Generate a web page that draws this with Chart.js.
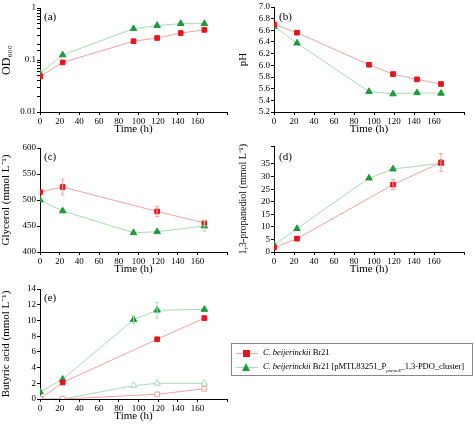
<!DOCTYPE html>
<html>
<head>
<meta charset="utf-8">
<script src="https://cdn.jsdelivr.net/npm/chart.js@4"></script>
<style>
  body { margin: 0; background: #fff; font-family: "Liberation Serif", serif; }
  .panel { position: absolute; }
  .tag { position: absolute; font-size: 11px; }
  #legend { position: absolute; left: 231px; top: 343px; width: 242px; height: 33px; border: 1px solid #888; font-size: 8.6px; box-sizing: border-box; }
  .row { position: absolute; left: 4px; white-space: nowrap; letter-spacing: -0.1px; }
  .ln { display: inline-block; width: 22px; height: 1px; vertical-align: middle; position: relative; margin-right: 5px; }
  .sq { position: absolute; left: 7px; top: -3px; width: 7px; height: 7px; background: #e8141c; }
  .tri { position: absolute; left: 6px; top: -4px; width: 0; height: 0; border-left: 4px solid transparent; border-right: 4px solid transparent; border-bottom: 8px solid #1e9a3c; }
</style>
</head>
<body>
<div class="panel" style="left:0;top:0"><canvas id="chartA" width="237" height="140"></canvas></div>
<div class="panel" style="left:237px;top:0"><canvas id="chartB" width="237" height="140"></canvas></div>
<div class="panel" style="left:0;top:140px"><canvas id="chartC" width="237" height="140"></canvas></div>
<div class="panel" style="left:237px;top:140px"><canvas id="chartD" width="237" height="140"></canvas></div>
<div class="panel" style="left:0;top:280px"><canvas id="chartE" width="237" height="147"></canvas></div>
<div class="tag" style="left:44px;top:10px">(a)</div>
<div class="tag" style="left:279px;top:10px">(b)</div>
<div class="tag" style="left:44px;top:150px">(c)</div>
<div class="tag" style="left:279px;top:150px">(d)</div>
<div class="tag" style="left:44px;top:291px">(e)</div>
<div id="legend">
  <div class="row" style="top:3px"><span class="ln" style="background:#f4a0a0"><span class="sq"></span></span><i>C. beijerinckii</i> Br21</div>
  <div class="row" style="top:17px"><span class="ln" style="background:#a6dcb4"><span class="tri"></span></span><i>C. beijerinckii</i> Br21 [pMTL83251_P<sub style="font-size:5px"><i>pta-ack</i></sub>_1,3-PDO_cluster]</div>
</div>
<script>
// 時間軸
const timeAll = [0, 23, 95, 119, 143, 167];
const timeC = [0, 23, 119, 167];
const timeG = [0, 23, 95, 119, 167];

// (a) OD600
const odRed = [0.048, 0.09, 0.23, 0.265, 0.33, 0.38];
const odGreen = [0.055, 0.125, 0.4, 0.46, 0.5, 0.5];
// (b) pH
const phRed = [6.70, 6.56, 6.01, 5.85, 5.76, 5.68];
const phGreen = [6.67, 6.38, 5.55, 5.51, 5.53, 5.52];
// (c) グリセロール
const glyRed = [515, 525, 478, 456];
const glyRedErr = [0, 15, 10, 5];
const glyGreen = [500, 479, 437, 439, 450];
const glyGreenErr = [0, 0, 0, 0, 10];
// (d) 1,3-プロパンジオール
const pdoRed = [1.8, 5.3, 26.8, 35.6];
const pdoRedErr = [0, 0, 2, 3.5];
const pdoGreen = [2.8, 9.3, 29.4, 33.0, 35.3];
const pdoGreenErr = [0, 0, 0, 0, 0];
// (e) 酪酸（塗り：本体、白抜き：もう一方）
const butRed = [0, 2.1, 7.6, 10.3];
const butRedErr = [0, 0, 0, 0];
const butGreen = [0.9, 2.5, 10.1, 11.3, 11.4];
const butGreenErr = [0, 0, 0.5, 1.0, 0];
const butRedOpen = [0, 0, 0.6, 1.3];
const butGreenOpen = [0, 0, 1.7, 2.0, 2.0];

const RED = '#e8141c', RED_L = '#f4a0a0', GREEN = '#1e9a3c', GREEN_L = '#a6dcb4';
const FONT = 'Liberation Serif';

function pts(xs, ys) { return xs.map((x, i) => ({ x: x, y: ys[i] })); }

function series(xs, ys, kind, err, open) {
  const red = kind === 'red';
  return {
    data: pts(xs, ys),
    err: err || null,
    borderColor: red ? RED_L : GREEN_L,
    borderWidth: 1,
    pointStyle: red ? 'rect' : 'triangle',
    pointRadius: red ? 3.3 : 3.8,
    pointBackgroundColor: open ? '#fff' : (red ? RED : GREEN),
    pointBorderColor: open ? (red ? RED_L : GREEN_L) : (red ? RED : GREEN),
    pointBorderWidth: 1,
    tension: 0
  };
}

// エラーバー描画
const errorBars = {
  id: 'errorBars',
  afterDatasetsDraw(chart) {
    const ctx = chart.ctx;
    const ys = chart.scales.y, xs = chart.scales.x;
    chart.data.datasets.forEach(ds => {
      if (!ds.err) return;
      ctx.save();
      ctx.strokeStyle = ds.borderColor;
      ctx.lineWidth = 1;
      ds.data.forEach((p, i) => {
        const e = ds.err[i];
        if (!e) return;
        const x = xs.getPixelForValue(p.x);
        const y1 = ys.getPixelForValue(p.y - e), y2 = ys.getPixelForValue(p.y + e);
        ctx.beginPath();
        ctx.moveTo(x, y1); ctx.lineTo(x, y2);
        ctx.moveTo(x - 2, y1); ctx.lineTo(x + 2, y1);
        ctx.moveTo(x - 2, y2); ctx.lineTo(x + 2, y2);
        ctx.stroke();
      });
      ctx.restore();
    });
  }
};

function makeChart(id, datasets, yOpts, yTitle, yWidth, padTop, titleSize) {
  const yScale = Object.assign({
    border: { color: '#000' },
    grid: { drawOnChartArea: false, color: '#000', tickLength: 3 },
    ticks: { color: '#000', font: { family: FONT, size: 9 }, padding: 1, autoSkip: false },
    title: { display: true, text: yTitle, color: '#000', font: { family: FONT, size: titleSize || 11 }, padding: 0 },
    afterFit: s => { s.width = yWidth; }
  }, yOpts);
  yScale.ticks = Object.assign(yScale.ticks, yOpts.tickExtra || {});
  delete yScale.tickExtra;
  new Chart(document.getElementById(id), {
    type: 'line',
    data: { datasets: datasets },
    options: {
      responsive: false,
      animation: false,
      layout: { padding: { top: padTop, right: 10 } },
      plugins: { legend: { display: false }, tooltip: { enabled: false } },
      scales: {
        x: {
          type: 'linear', min: 0, max: 190,
          border: { color: '#000' },
          grid: { drawOnChartArea: false, color: '#000', tickLength: 3 },
          ticks: { stepSize: 20, color: '#000', font: { family: FONT, size: 9 }, padding: 1,
                   autoSkip: false, maxRotation: 0, minRotation: 0,
                   callback: v => v > 180 ? '' : v },
          title: { display: true, text: 'Time (h)', color: '#000', font: { family: FONT, size: 11 }, padding: { top: 2 } },
          afterFit: s => { s.height = 28; }
        },
        y: yScale
      }
    },
    plugins: [errorBars]
  });
}

makeChart('chartA', [series(timeAll, odRed, 'red'), series(timeAll, odGreen, 'green')],
  { type: 'logarithmic', min: 0.01, max: 1,
    tickExtra: { callback: v => (v === 1 || v === 0.1 || v === 0.01) ? String(v) : '' } },
  'OD₆₀₀', 40, 8, 12);

makeChart('chartB', [series(timeAll, phRed, 'red'), series(timeAll, phGreen, 'green')],
  { type: 'linear', min: 5.2, max: 7.0, tickExtra: { stepSize: 0.2, callback: v => v.toFixed(1) } },
  'pH', 37, 7);

makeChart('chartC', [series(timeC, glyRed, 'red', glyRedErr), series(timeG, glyGreen, 'green', glyGreenErr)],
  { type: 'linear', min: 400, max: 600, tickExtra: { stepSize: 50 } },
  'Glycerol (mmol L⁻¹)', 40, 8);

makeChart('chartD', [series(timeC, pdoRed, 'red', pdoRedErr), series(timeG, pdoGreen, 'green', pdoGreenErr)],
  { type: 'linear', min: 0, max: 42, tickExtra: { stepSize: 5, callback: v => v > 40 ? '' : v } },
  '1,3-propanediol (mmol L⁻¹)', 37, 5, 10);

makeChart('chartE', [
    series(timeC, butRedOpen, 'red', null, true),
    series(timeG, butGreenOpen, 'green', null, true),
    series(timeC, butRed, 'red', butRedErr),
    series(timeG, butGreen, 'green', butGreenErr)
  ],
  { type: 'linear', min: 0, max: 14, tickExtra: { stepSize: 2 } },
  'Butyric acid (mmol L⁻¹)', 40, 9);
</script>
</body>
</html>
